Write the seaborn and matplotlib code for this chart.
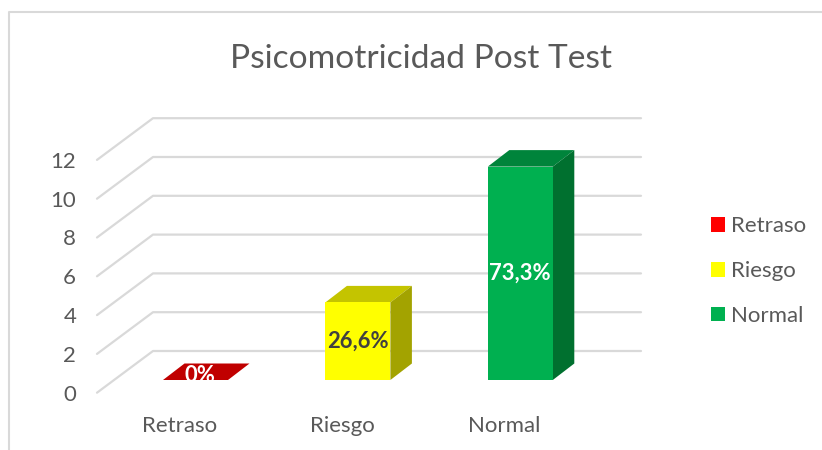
import matplotlib
matplotlib.use("Agg")
import matplotlib.pyplot as plt
from matplotlib.lines import Line2D
from matplotlib.patches import Polygon
import pandas as pd
import seaborn as sns

categories = ["Retraso", "Riesgo", "Normal"]
values = [0, 4, 11]
labels = ["0%", "26,6%", "73,3%"]
y_ticks = [0, 2, 4, 6, 8, 10, 12]

front_colors = ["#FF0000", "#FFFF00", "#00B050"]
top_colors = ["#C00000", "#C4C400", "#00843B"]
side_colors = ["#A00000", "#A3A300", "#00702F"]
label_colors = ["white", "#404040", "white"]

GREY = "#595959"
GRID = "#D9D9D9"
W, H = 822, 450

sns.set_style("white")
plt.rcParams["font.family"] = ["Lato", "DejaVu Sans"]

fig = plt.figure(figsize=(W / 100, H / 100), dpi=100, facecolor="white")

# pixel frame of the plot area
px_left, px_right, px_bottom, px_top = 97, 641, 393, 110
ax = fig.add_axes([px_left / W, 1 - px_bottom / H,
                   (px_right - px_left) / W, (px_bottom - px_top) / H])

# scales: px per category, px per unit, zero at y=380, first bar centre
x_unit, y_unit = 162.4, 19.4
x_first = 195.5
xlim = ((px_left - x_first) / x_unit, (px_right - x_first) / x_unit)
ylim = ((380 - px_bottom) / y_unit, (380 - px_top) / y_unit)

df = pd.DataFrame({"cat": categories, "val": values})
sns.barplot(data=df, x="cat", y="val", hue="cat", hue_order=categories,
            palette=front_colors, dodge=False, width=65 / x_unit, ax=ax,
            saturation=1, legend=True, zorder=3, linewidth=0, edgecolor="none")
ax.set_xlim(*xlim)
ax.set_ylim(*ylim)

# oblique depth offsets
floor_front_dy = (380 - 392.7) / y_unit
wall_dx, wall_dy = 56 / x_unit, 41.7 / y_unit
bar_dx, bar_dy = 21.5 / x_unit, 16.5 / y_unit
x0, x1 = xlim

# floor/wall gridlines
for v in y_ticks:
    y_f = v + floor_front_dy
    ax.add_line(Line2D([x0, x0 + wall_dx, x1], [y_f, y_f + wall_dy, y_f + wall_dy],
                       color=GRID, lw=1.6, zorder=1, clip_on=False))

# 3D sides of each bar, derived from the bar patches
for i, container in enumerate(ax.containers):
    bar = container[0]
    l, w, h = bar.get_x(), bar.get_width(), bar.get_height()
    r = l + w
    ax.add_patch(Polygon([(l, h), (r, h), (r + bar_dx, h + bar_dy), (l + bar_dx, h + bar_dy)],
                         closed=True, fc=top_colors[i], ec="none", zorder=2.9))
    if h > 0:
        ax.add_patch(Polygon([(r, 0), (r + bar_dx, bar_dy), (r + bar_dx, h + bar_dy), (r, h)],
                             closed=True, fc=side_colors[i], ec="none", zorder=2.95))
        lx, ly = l + w / 2, h / 2
    else:
        lx, ly = l + w / 2 + 4.5 / x_unit, 5 / y_unit
    ax.text(lx, ly, labels[i], color=label_colors[i], ha="center", va="center",
            fontsize=15.8, fontweight="bold", zorder=5)

# ticks
ax.set_yticks([v + floor_front_dy for v in y_ticks])
ax.set_yticklabels([str(v) for v in y_ticks])
ax.set_xticks([i - 16 / x_unit for i in range(len(categories))])
ax.set_xticklabels(categories)
ax.tick_params(axis="y", length=0, pad=15, labelsize=16, labelcolor=GREY)
ax.tick_params(axis="x", length=0, pad=16.5, labelsize=16, labelcolor=GREY)
ax.set_xlabel("")
ax.set_ylabel("")
ax.grid(False)
ax.patch.set_alpha(0)
sns.despine(ax=ax, left=True, bottom=True)

# legend
sns.move_legend(ax, "center left", bbox_to_anchor=(711 / W, 1 - 271 / H),
                bbox_transform=fig.transFigure, title=None, frameon=False,
                fontsize=16, labelcolor=GREY, handlelength=0.64, handleheight=0.64,
                labelspacing=1.12, handletextpad=0.27, borderaxespad=0, borderpad=0)

# title
fig.text(420.5 / W, 1 - 59 / H, "Psicomotricidad Post Test", ha="center", va="center",
         fontsize=24.1, color=GREY)

# chart frame (top and left edges)
fig.add_artist(Line2D([8.5 / W, 8.5 / W, 1], [0, 1 - 12 / H, 1 - 12 / H],
                      color=GRID, lw=1.5, transform=fig.transFigure))

fig.savefig("out.png", dpi=100, facecolor="white")
